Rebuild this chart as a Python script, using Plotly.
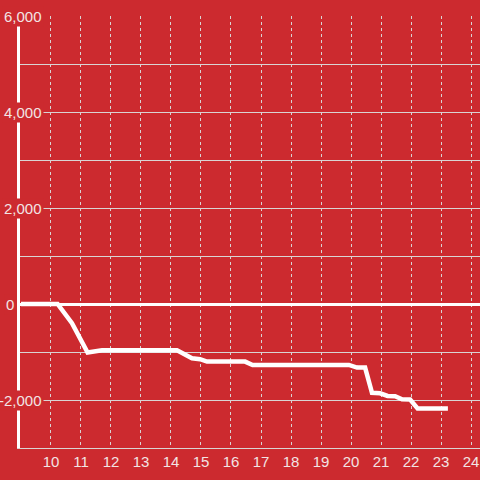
import plotly.graph_objects as go

hours = [9.0, 10.22, 10.7, 11.22, 11.7, 14.2, 14.7, 14.97, 15.2, 16.47, 16.72,
         19.93, 20.2, 20.47, 20.7, 20.97, 21.22, 21.47, 21.7, 21.97, 22.22, 23.23]
values = [0, 0, -400, -1010, -965, -965, -1130, -1150, -1200, -1200, -1270,
          -1270, -1325, -1325, -1850, -1860, -1915, -1920, -1985, -1990, -2175, -2175]

x_ticks = list(range(10, 25))
y_label_vals = [6000, 4000, 2000, 0, -2000]
y_label_text = ["6,000", "4,000", "2,000", "0", "-2,000"]

BG = "#cc2a2f"
TXT = "#f2e4e4"
GRID = "#d9d4d4"
FONT = "Liberation Sans, Arial, sans-serif"

fig = go.Figure()
fig.add_trace(go.Scatter(x=hours, y=values, mode="lines",
                         line=dict(color="white", width=4.5), hoverinfo="skip"))

annotations = []
for v, t in zip(y_label_vals, y_label_text):
    xpx = 16 if v == 0 else 44
    annotations.append(dict(
        x=(xpx - 20) / 460.0, xref="paper", xanchor="right",
        y=v, yref="y", yanchor="middle",
        text=t, showarrow=False, bgcolor=BG, borderpad=1,
        font=dict(family=FONT, size=15, color=TXT)))

fig.update_layout(
    width=480, height=480,
    margin=dict(l=20, r=0, t=16, b=32, autoexpand=False),
    paper_bgcolor=BG, plot_bgcolor=BG,
    showlegend=False,
    annotations=annotations,
    font=dict(family=FONT, size=15, color=TXT),
    xaxis=dict(range=[8.967, 24.3], tickvals=x_ticks, ticktext=[str(t) for t in x_ticks],
               showgrid=True, gridcolor=GRID, griddash="dot", gridwidth=1,
               showline=True, linecolor=GRID, linewidth=1, automargin=False,
               zeroline=False, ticks="", tickfont=dict(size=15, color=TXT)),
    yaxis=dict(range=[-3000, 6000], dtick=1000, showticklabels=False, automargin=False,
               showgrid=True, gridcolor=GRID, gridwidth=1,
               zeroline=True, zerolinecolor="white", zerolinewidth=3,
               showline=True, linecolor="white", linewidth=3, ticks=""),
)

fig.write_html("out.html", config={"displayModeBar": False},
               post_script="document.body.style.margin='0';document.body.style.background='%s';" % BG)
